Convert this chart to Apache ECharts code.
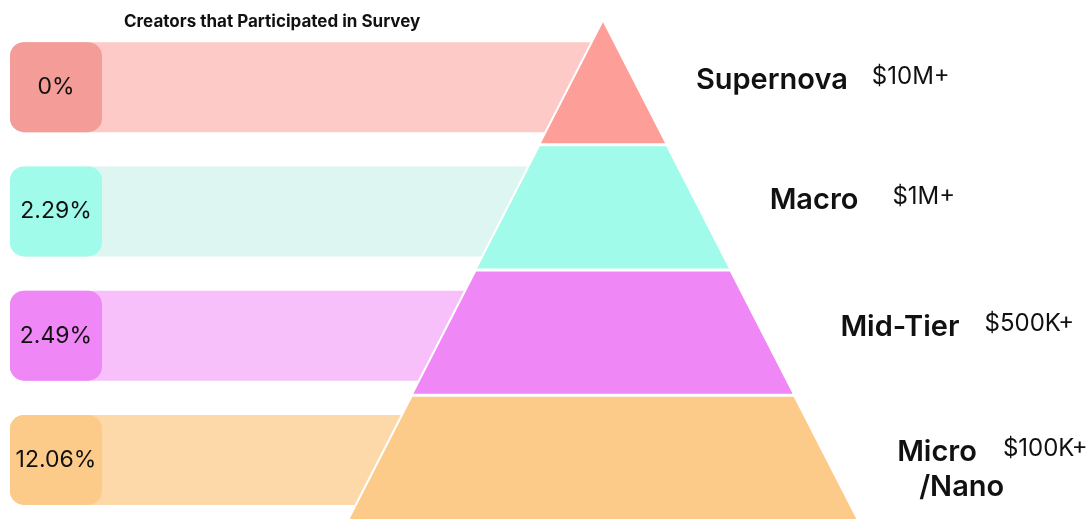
<!DOCTYPE html>
<html>
<head>
<meta charset="utf-8">
<script src="https://cdn.jsdelivr.net/npm/echarts@6/dist/echarts.min.js"></script>
<style>
  html, body { margin: 0; padding: 0; background: #fff; }
  #chart { width: 1092px; height: 522px; }
</style>
</head>
<body>
<div id="chart"></div>
<script>
// tiers, top to bottom
var tiers = ['Supernova', 'Macro', 'Mid-Tier', 'Micro'];
var tierSub = ['', '', '', '/Nano'];
var prices = ['$10M+', '$1M+', '$500K+', '$100K+'];
var participated = [0, 2.29, 2.49, 12.06]; // percent
var tierSize = [1, 2, 3, 4]; // pyramid width steps

var tierColors = ['#FE9E99', '#A0FBEA', '#F087F7', '#FDCB89'];
var boxColors = ['#F49C97', '#A0FBEA', '#F087F7', '#FDCB89'];
var bandColors = ['#FECAC7', '#DEF6F2', '#F8C0FA', '#FDD9AA'];
// label placement tweaks per tier
var lineLens = [56, 66, 73, 66];
var labelPads = [[0, 0, 4, 0], [0, 0, 14, 0], [0, 0, 10, 0], [24, 0, 0, 0]];
var spacers = ['s24', 's34', 's25', 's26'];

var font = 'Inter';

var chart = echarts.init(document.getElementById('chart'));

var option = {
  animation: false,
  title: {
    text: 'Creators that Participated in Survey',
    left: 119,
    top: 8,
    textStyle: { fontFamily: font, fontSize: 17, fontWeight: 'bold', color: '#111' }
  },
  grid: { left: 10, right: 492, top: 25, bottom: 0 },
  xAxis: { type: 'value', min: 0, max: 1, show: false },
  yAxis: { type: 'category', data: tiers, inverse: true, show: false },
  series: [
    {
      // light bands behind the pyramid, with the percentage box at the left
      type: 'bar',
      barWidth: 90,
      silent: true,
      data: tiers.map(function (t, i) {
        return {
          value: 1,
          itemStyle: { color: bandColors[i], borderRadius: [14, 0, 0, 14] },
          label: {
            rich: {
              box: {
                width: 92, height: 90, lineHeight: 90, align: 'center',
                backgroundColor: boxColors[i], borderRadius: 14,
                fontFamily: font, fontSize: 23, color: '#111'
              }
            }
          }
        };
      }),
      label: {
        show: true,
        position: 'insideLeft',
        distance: 0,
        formatter: function (p) {
          return '{box|' + participated[p.dataIndex] + '%}';
        }
      }
    },
    {
      type: 'funnel',
      z: 5,
      sort: 'ascending',
      left: 348,
      top: 20,
      width: 510,
      height: 500,
      min: 0,
      max: 4,
      minSize: '0%',
      maxSize: '100%',
      gap: 1,
      silent: true,
      itemStyle: { borderColor: '#fff', borderWidth: 2 },
      labelLine: { show: false, length: 62 },
      label: {
        show: true,
        position: 'right',
        formatter: function (p) {
          var i = p.dataIndex;
          var s = '{n|' + tiers[i] + '}{' + spacers[i] + '|}{p|' + prices[i] + '}';
          if (tierSub[i]) s += '\n{ind|}{n|' + tierSub[i] + '}';
          return s;
        },
        rich: {
          n: { fontFamily: font, fontSize: 29, fontWeight: 600, color: '#111', lineHeight: 35 },
          s24: { width: 24 },
          s25: { width: 25 },
          s26: { width: 26 },
          s34: { width: 34 },
          ind: { width: 22 },
          p: { fontFamily: font, fontSize: 24, color: '#111', verticalAlign: 'bottom', padding: [0, 0, 9, 0] }
        }
      },
      data: tiers.map(function (t, i) {
        return {
          name: t,
          value: tierSize[i],
          itemStyle: { color: tierColors[i] },
          labelLine: { length: lineLens[i] },
          label: { padding: labelPads[i] }
        };
      })
    }
  ]
};

chart.setOption(option);
window.addEventListener('resize', function () { chart.resize(); });
</script>
</body>
</html>
